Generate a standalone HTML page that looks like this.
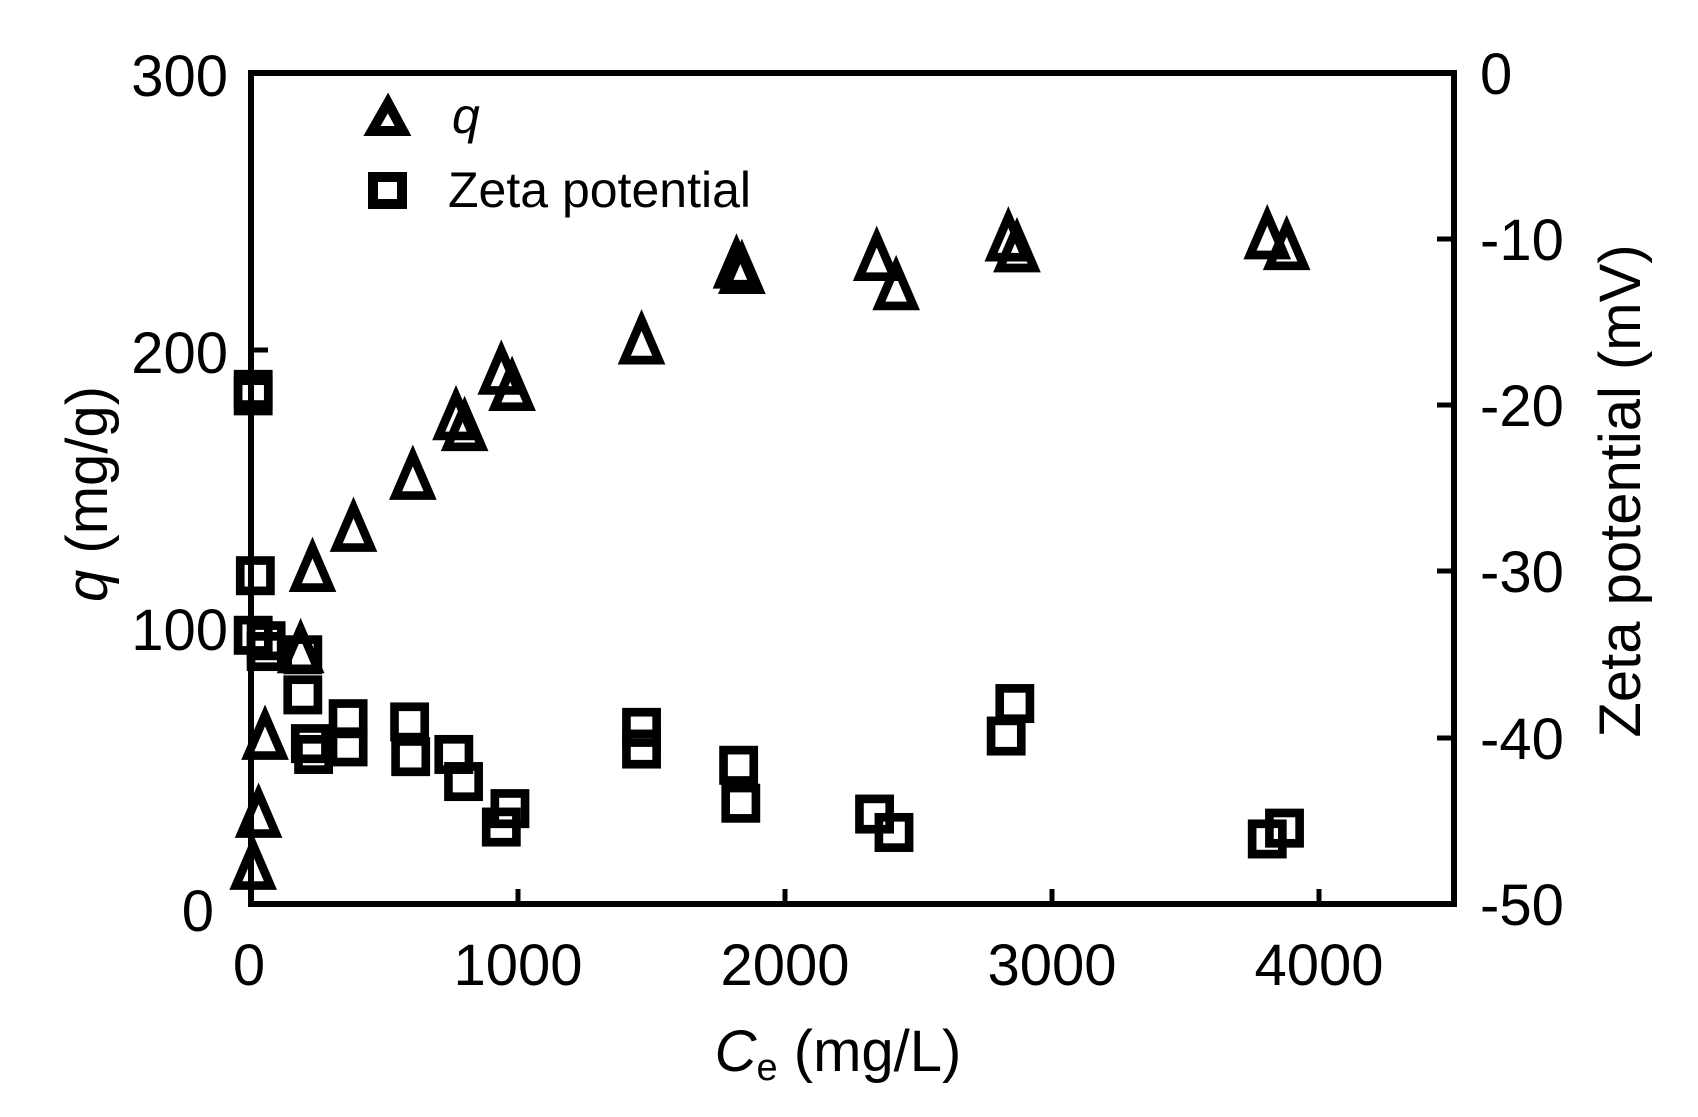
<!DOCTYPE html>
<html><head><meta charset="utf-8"><style>
html,body{margin:0;padding:0;background:#fff;}
svg{display:block;}
text{font-family:"Liberation Sans",Arial,sans-serif;fill:#000;}
</style></head><body>
<svg width="1698" height="1117" viewBox="0 0 1698 1117" xmlns="http://www.w3.org/2000/svg">
<defs>
<path id="tri" d="M0,-21 L16,16 L-16,16 Z" fill="none" stroke="#000" stroke-width="8" stroke-linejoin="miter"/>
<rect id="sq" x="-14" y="-14" width="28" height="28" fill="none" stroke="#000" stroke-width="8"/>
</defs>
<rect x="251" y="73" width="1203" height="831" fill="none" stroke="#000" stroke-width="6"/>
<g stroke="#000" stroke-width="5">
<line x1="251" y1="350" x2="268" y2="350"/>
<line x1="251" y1="627" x2="268" y2="627"/>
<line x1="1454" y1="239" x2="1437" y2="239"/>
<line x1="1454" y1="405" x2="1437" y2="405"/>
<line x1="1454" y1="571" x2="1437" y2="571"/>
<line x1="1454" y1="738" x2="1437" y2="738"/>
<line x1="518" y1="904" x2="518" y2="889"/>
<line x1="785" y1="904" x2="785" y2="889"/>
<line x1="1052" y1="904" x2="1052" y2="889"/>
<line x1="1319" y1="904" x2="1319" y2="889"/>
</g>
<g font-size="58" text-anchor="end">
<text x="228" y="96">300</text>
<text x="228" y="373">200</text>
<text x="228" y="650">100</text>
<text x="214" y="931">0</text>
</g>
<g font-size="58" text-anchor="start">
<text x="1480" y="94">0</text>
<text x="1480" y="260">-10</text>
<text x="1480" y="426">-20</text>
<text x="1480" y="592">-30</text>
<text x="1480" y="759">-40</text>
<text x="1480" y="925">-50</text>
</g>
<g font-size="58" text-anchor="middle">
<text x="249" y="985">0</text>
<text x="518" y="985">1000</text>
<text x="785" y="985">2000</text>
<text x="1052" y="985">3000</text>
<text x="1319" y="985">4000</text>
</g>
<text x="838" y="1071" font-size="58" text-anchor="middle"><tspan font-style="italic">C</tspan><tspan font-size="38" dy="9">e</tspan><tspan dy="-9"> (mg/L)</tspan></text>
<text transform="translate(107,494) rotate(-90)" font-size="58" text-anchor="middle"><tspan font-style="italic">q</tspan> (mg/g)</text>
<text transform="translate(1640,491) rotate(-90)" font-size="58" text-anchor="middle">Zeta potential (mV)</text>
<path d="M388,103 L403,131 L372,131 Z" fill="none" stroke="#000" stroke-width="10"/>
<rect x="373" y="177" width="29" height="27" fill="none" stroke="#000" stroke-width="10"/>
<text x="452" y="133" font-size="50" font-style="italic">q</text>
<text x="448" y="207" font-size="50">Zeta potential</text>
<g transform="matrix(1.0788 0 0 1.0834 2.9 1.5)">
<use href="#tri" x="232" y="800"/><use href="#tri" x="237" y="752"/><use href="#tri" x="243" y="680"/>
<use href="#tri" x="276" y="600"/><use href="#tri" x="287" y="525"/><use href="#tri" x="325" y="488"/>
<use href="#tri" x="380" y="440"/><use href="#tri" x="420" y="385"/><use href="#tri" x="428" y="395"/>
<use href="#tri" x="462" y="343"/><use href="#tri" x="472" y="358"/><use href="#tri" x="592" y="315"/>
<use href="#tri" x="680" y="245"/><use href="#tri" x="685" y="250"/><use href="#tri" x="810" y="238"/>
<use href="#tri" x="828" y="265"/><use href="#tri" x="932" y="220"/><use href="#tri" x="940" y="230"/>
<use href="#tri" x="1172" y="218"/><use href="#tri" x="1190" y="228"/>
<use href="#sq" x="232" y="358"/><use href="#sq" x="232" y="364"/><use href="#sq" x="234" y="530"/>
<use href="#sq" x="232" y="585"/><use href="#sq" x="244" y="590"/><use href="#sq" x="244" y="600"/>
<use href="#sq" x="278" y="603"/><use href="#sq" x="278" y="640"/><use href="#sq" x="285" y="685"/>
<use href="#sq" x="288" y="695"/><use href="#sq" x="320" y="662"/><use href="#sq" x="320" y="688"/>
<use href="#sq" x="377" y="665"/><use href="#sq" x="378" y="697"/><use href="#sq" x="418" y="695"/>
<use href="#sq" x="427" y="720"/><use href="#sq" x="462" y="762"/><use href="#sq" x="470" y="745"/>
<use href="#sq" x="592" y="670"/><use href="#sq" x="592" y="690"/><use href="#sq" x="682" y="705"/>
<use href="#sq" x="684" y="740"/><use href="#sq" x="808" y="750"/><use href="#sq" x="826" y="767"/>
<use href="#sq" x="930" y="678"/><use href="#sq" x="938" y="648"/><use href="#sq" x="1172" y="773"/>
<use href="#sq" x="1188" y="763"/>
</g>
</svg>
</body></html>
